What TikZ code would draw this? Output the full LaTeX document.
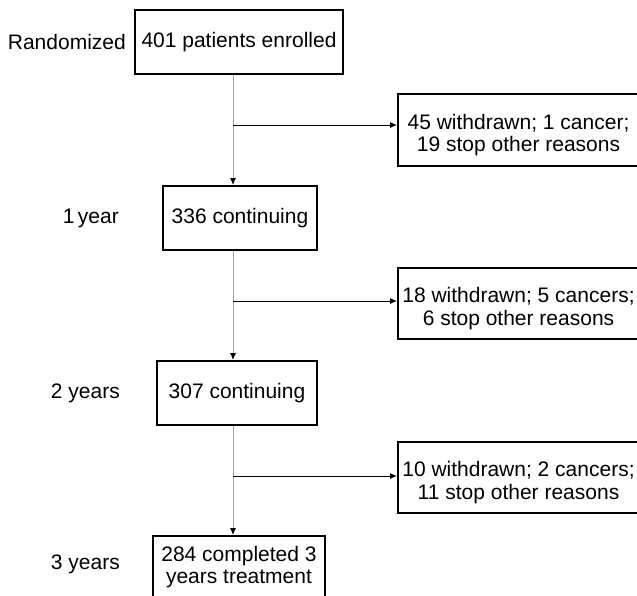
\documentclass[tikz,border=0pt]{standalone}
\usepackage{fontspec}
\setmainfont{Liberation Sans}
\usetikzlibrary{arrows.meta}
\newcommand\mystrut{\rule{0pt}{26pt}}
\begin{document}
\begin{tikzpicture}[x=1pt,y=-1pt,
  box/.style={draw=black,line width=2pt,inner sep=0pt,align=center,font=\fontsize{21}{22.5}\selectfont},
  lbl/.style={anchor=east,inner sep=0pt,font=\fontsize{21}{22.5}\selectfont},
  spine/.style={draw=gray!70,line width=1pt,-{Latex[length=7pt,width=6pt,color=black]}},
  branch/.style={draw=black,line width=1pt,-{Latex[length=7pt,width=6pt]}}]
\useasboundingbox (0,0) rectangle (637,595);
\clip (0,0) rectangle (637,595);
% main boxes
\node[box,minimum width=208pt,minimum height=64pt] (n1) at (239,42) {401 patients enrolled};
\node[box,minimum width=154pt,minimum height=64pt] (n2) at (240,218) {336 continuing};
\node[box,minimum width=160pt,minimum height=64pt] (n3) at (237,393) {307 continuing};
\node[box,minimum width=172pt,minimum height=62pt] (n4) at (239,567) {284 completed 3\\years treatment};
% side boxes
\node[box,minimum width=241pt,minimum height=72pt] (r1) at (518.5,129.5) {\mystrut45 withdrawn; 1 cancer;\\19 stop other reasons};
\node[box,minimum width=241pt,minimum height=71pt] (r2) at (518.5,303) {\mystrut18 withdrawn; 5 cancers;\\6 stop other reasons};
\node[box,minimum width=241pt,minimum height=71pt] (r3) at (518.5,477) {\mystrut10 withdrawn; 2 cancers;\\11 stop other reasons};
% row labels
\node[lbl] (l0) at (126,42) {Randomized};
\node[lbl] (l1) at (119,218) {1\,year};
\node[lbl] (l2) at (120,393) {2 years};
\node[lbl] (l3) at (120,564) {3 years};
% spine and branches
\coordinate (sx) at (233,0);
\coordinate (b1) at (233,125);
\coordinate (b2) at (233,301);
\coordinate (b3) at (233,476);
\draw[spine] (n1.south -| sx) -- (n2.north -| sx);
\draw[spine] (n2.south -| sx) -- (n3.north -| sx);
\draw[spine] (n3.south -| sx) -- (n4.north -| sx);
\draw[branch] (b1) -- (r1.west |- b1);
\draw[branch] (b2) -- (r2.west |- b2);
\draw[branch] (b3) -- (r3.west |- b3);
\end{tikzpicture}
\end{document}
